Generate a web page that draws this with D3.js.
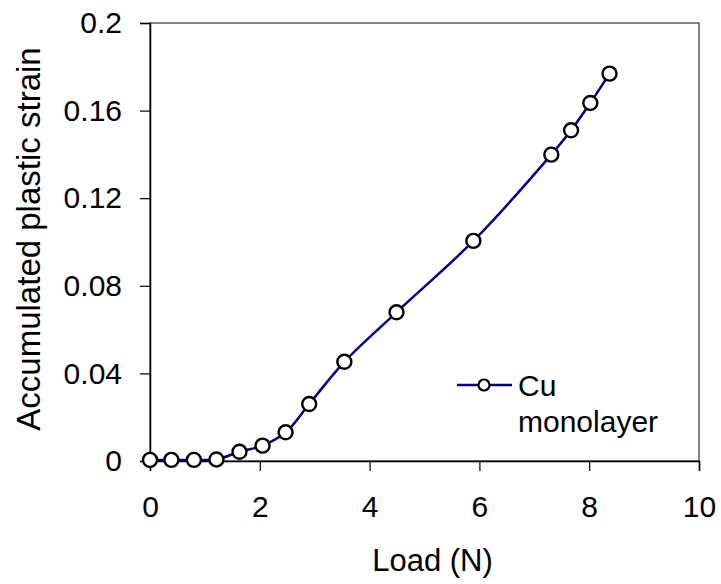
<!DOCTYPE html>
<html>
<head>
<meta charset="utf-8">
<script src="https://cdn.jsdelivr.net/npm/d3@7"></script>
<style>
  body { margin: 0; background: #fff; }
  text { font-family: Arial, "Liberation Sans", sans-serif; fill: #000; }
</style>
</head>
<body>
<div id="chart"></div>
<script>
// data
var loads = [0, 0.39, 0.8, 1.21, 1.63, 2.05, 2.47, 2.9, 3.54, 4.49, 5.89, 7.31, 7.67, 8.02, 8.37];
var strains = [0.0005, 0.0005, 0.0005, 0.0007, 0.0042, 0.007, 0.0131, 0.026, 0.0453, 0.0679, 0.1005, 0.1399, 0.151, 0.1635, 0.1769];
var xTicks = [0, 2, 4, 6, 8, 10];
var yTicks = [0, 0.04, 0.08, 0.12, 0.16, 0.2];
var yTickLabels = ["0", "0.04", "0.08", "0.12", "0.16", "0.2"];
var seriesName = ["Cu", "monolayer"];

var margin = { top: 23, right: 22, bottom: 123, left: 150 },
    width = 721 - margin.left - margin.right,
    height = 584 - margin.top - margin.bottom;

var svg = d3.select("#chart")
    .append("svg")
    .attr("width", 721)
    .attr("height", 584)
    .append("g")
    .attr("transform", "translate(" + margin.left + "," + margin.top + ")");

var x = d3.scaleLinear().domain([0, 10]).range([0, width]);
var y = d3.scaleLinear().domain([0, 0.2]).range([height, 0]);

// plot frame
svg.append("rect")
    .attr("width", width)
    .attr("height", height)
    .attr("fill", "none")
    .attr("stroke", "#333")
    .attr("stroke-width", 1.2);

// X axis
var xAxis = svg.append("g")
    .attr("transform", "translate(0," + height + ")")
    .call(d3.axisBottom(x).tickValues(xTicks).tickSize(10).tickPadding(25).tickFormat(d3.format("d")));

// Y axis
var yAxis = svg.append("g")
    .call(d3.axisLeft(y).tickValues(yTicks).tickSize(10).tickPadding(18)
        .tickFormat(function (d, i) { return yTickLabels[i]; }));

[xAxis, yAxis].forEach(function (g) {
    g.select(".domain").attr("stroke", "#000").attr("stroke-width", 1.5);
    g.selectAll(".tick line").attr("stroke", "#000").attr("stroke-width", 1.2);
    g.selectAll(".tick text").style("font-size", "30px").attr("fill", "#000");
});

// axis labels
svg.append("text")
    .attr("x", width / 2 + 8)
    .attr("y", height + 110)
    .style("text-anchor", "middle")
    .style("font-size", "31px")
    .text("Load (N)");

svg.append("text")
    .attr("transform", "rotate(-90)")
    .attr("x", -216)
    .attr("y", -110)
    .style("text-anchor", "middle")
    .style("font-size", "33px")
    .text("Accumulated plastic strain");

// the curve
var pts = loads.map(function (d, i) { return [d, strains[i]]; });
var line = d3.line()
    .x(function (d) { return x(d[0]); })
    .y(function (d) { return y(d[1]); })
    .curve(d3.curveCatmullRom.alpha(0.5));

svg.append("path")
    .datum(pts)
    .attr("d", line)
    .attr("fill", "none")
    .attr("stroke", "#000080")
    .attr("stroke-width", 2.5);

svg.selectAll(".pt")
    .data(pts)
    .enter()
    .append("circle")
    .attr("class", "pt")
    .attr("cx", function (d) { return x(d[0]); })
    .attr("cy", function (d) { return y(d[1]); })
    .attr("r", 7)
    .attr("fill", "#fff")
    .attr("stroke", "#000")
    .attr("stroke-width", 2.4);

// legend
var lg = svg.append("g").attr("transform", "translate(307,362)");
lg.append("line")
    .attr("x1", 0).attr("x2", 55)
    .attr("stroke", "#000080")
    .attr("stroke-width", 2.5);
lg.append("circle")
    .attr("cx", 27).attr("r", 5.5)
    .attr("fill", "#fff")
    .attr("stroke", "#000")
    .attr("stroke-width", 2.2);
lg.selectAll(".lt")
    .data(seriesName)
    .enter()
    .append("text")
    .attr("x", 61)
    .attr("y", function (d, i) { return 11 + i * 36; })
    .style("font-size", "30px")
    .text(function (d) { return d; });
</script>
</body>
</html>
